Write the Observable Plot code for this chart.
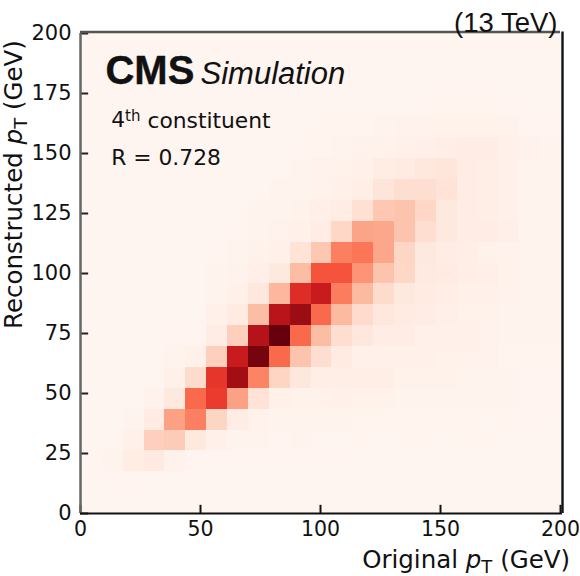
<!DOCTYPE html>
<html>
<head>
<meta charset="utf-8">
<script src="https://cdn.jsdelivr.net/npm/d3@7"></script>
<script src="https://cdn.jsdelivr.net/npm/@observablehq/plot@0.6"></script>
<style>html,body{margin:0;padding:0;background:#fff}svg{display:block}</style>
</head>
<body>
<div id="chart"></div>
<script>
const binCount = 23;
const xTicks = [0, 50, 100, 150, 200];
const yTicks = [0, 25, 50, 75, 100, 125, 150, 175, 200];
const row00 = [0,0,0,0,0,0,0,0,0,0,0,0,0,0,0,0,0,0,0,0,0,0,0];
const row01 = [0,.3,.3,0,0,0,0,0,0,0,0,0,0,0,0,0,0,0,0,0,0,0,0];
const row02 = [0,1,5.5,6.5,1.5,.3,.3,.3,.3,.3,.3,.3,.3,0,0,0,0,0,0,0,0,0,0];
const row03 = [0,0,2.5,18,19,7,2.5,1,1,.5,1,0,0,.7,0,.7,.7,0,.7,.7,0,0,0];
const row04 = [0,0,1,6,33,43,16,5,1.5,1,1,1,1,.7,.7,.7,.7,.7,.7,0,.7,.5,0];
const row05 = [0,0,0,1.5,7,50,63,33,10,3,2,2,3,2,2,1,1,1,1,1,1,.5,.5];
const row06 = [0,0,0,0,3,13,65,87,42,16,8,4,4,4,4,2,2,2,1,1,1,.5,.5];
const row07 = [0,0,0,0,1,3,18,76,97,50,22,12,6,3,3,3,3,2,1.5,1.5,.8,.8,.8];
const row08 = [0,0,0,0,.5,.5,5,18,82,100,50,24,12,8,4.5,4.5,3,3,2.5,1.5,1,1,1];
const row09 = [0,0,0,0,0,0,3,6,24,81,89,50,25,13,8,6,5,3.5,2,2,1,1,1];
const row10 = [0,0,0,0,0,0,1,3,8,26,68,76,44,25,13,7,6,4,3,2.5,1.5,1,1];
const row11 = [0,0,0,0,0,0,1,1.5,3.5,7,24,56,56,37,22,15,6.5,6,4,3.5,2,1,1];
const row12 = [0,0,0,0,0,0,.5,1,2,3,10,21,43,46,31,15.5,7,4.5,4,2,1.5,1,1];
const row13 = [0,0,0,0,0,0,0,.5,1,1.5,3,5,15,32,31,22,12,7,5,4.5,3.5,1,1];
const row14 = [0,0,0,0,0,0,0,0,1,1,2,3.5,5,11,21,22,15,7,4.5,4,3,1,1];
const row15 = [0,0,0,0,0,0,0,0,0,1,1,1.5,2.5,4,9,12,12,10,5,4,2.5,1,1];
const row16 = [0,0,0,0,0,0,0,0,0,0,1,1.5,2,2.5,5.5,6,8,8.5,4.5,4,2.5,1,1];
const row17 = [0,0,0,0,0,0,0,0,0,0,.5,.7,1,1.5,2,3,3.5,4,4.5,4.5,3,1.5,1];
const row18 = [0,0,0,0,0,0,0,0,0,0,0,.7,.7,.7,1,1.5,1.5,2,2,2,1.5,.5,.3];
const row19 = [0,0,0,0,0,0,0,0,0,0,0,0,0,0,0,0,.5,.7,.7,.7,.5,0,0];
const row20 = [0,0,0,0,0,0,0,0,0,0,0,0,0,0,0,0,0,.3,.3,.3,0,0,0];
const row21 = [0,0,0,0,0,0,0,0,0,0,0,0,0,0,0,0,0,0,0,0,0,0,0];
const row22 = [0,0,0,0,0,0,0,0,0,0,0,0,0,0,0,0,0,0,0,0,0,0,0];
const rows = [row00,row01,row02,row03,row04,row05,row06,row07,row08,row09,row10,row11,
              row12,row13,row14,row15,row16,row17,row18,row19,row20,row21,row22];
const binWidth = 200 / binCount;
const cells = rows.flatMap((r, j) => r.map((v, i) => ({
  x1: i * binWidth, x2: (i + 1) * binWidth, y1: j * binWidth, y2: (j + 1) * binWidth, v
})));

const sans = "DejaVu Sans";
const helv = "Liberation Sans";
const label = (t, x, y, o) => Plot.text([t], {x: () => x, y: () => y, text: d => d, textAnchor: "start", fontFamily: sans, fontSize: 21.8, fill: "#111", lineAnchor: "middle", ...o});

const svg = Plot.plot({
  width: 580, height: 576,
  marginLeft: 80, marginRight: 20, marginTop: 33, marginBottom: 63,
  style: {background: "#fff", overflow: "visible"},
  x: {domain: [0, 200]},
  y: {domain: [0, 200]},
  color: {type: "linear", scheme: "reds", domain: [0, 100]},
  marks: [
    Plot.rect(cells, {x1: "x1", x2: "x2", y1: "y1", y2: "y2", fill: "v", dx: 1, shapeRendering: "crispEdges"}),
    Plot.ruleX(xTicks, {x: d => d, y1: 0, y2: 3.4, stroke: "#111", strokeWidth: 2}),
    Plot.ruleY(yTicks, {y: d => d, x1: 0, x2: 3.4, stroke: "#222", strokeWidth: 2}),
    Plot.ruleX([0], {stroke: "#666", strokeWidth: 2.5}),
    Plot.ruleY([200], {stroke: "#555", strokeWidth: 2.5, dy: -1.5}),
    Plot.ruleX([200], {stroke: "#111", strokeWidth: 2.4, dx: 2, y1: 0, y2: 200.6}),
    Plot.ruleY([0], {stroke: "#111", strokeWidth: 2.2, x1: 0, x2: 200.8}),
    Plot.axisX({ticks: xTicks, tickSize: 0, tickPadding: 8, label: null, fontFamily: sans, fontSize: 20.5, fill: "#111"}),
    Plot.axisY({ticks: yTicks, tickSize: 0, tickPadding: 9, label: null, fontFamily: sans, fontSize: 21, fill: "#111"}),
    label("CMS", 10.4, 184.5, {fontFamily: helv, fontWeight: "bold", fontSize: 40, fill: "#111", stroke: "#111", strokeWidth: 0.4}),
    label("Simulation", 50, 183, {fontFamily: helv, fontStyle: "italic", fontSize: 31}),
    label("4th constituent", 12.8, 163.8),
    label("R = 0.728", 12.8, 148),
    label("(13 TeV)", 557 / 2.4 - 80 / 2.4, 204.5, {fontFamily: helv, fontSize: 27.5, textAnchor: "end"}),
    label("Original pT (GeV)", 204, -19.5, {fontSize: 24.5, textAnchor: "end"}),
    Plot.text(["Reconstructed pT (GeV)"], {frameAnchor: "top-left", dx: -66, dy: 151, text: d => d, rotate: -90, textAnchor: "middle", lineAnchor: "middle", fontFamily: sans, fontSize: 24.5, fill: "#111"})
  ]
});

// Typeset superscripts and subscripts as real tspans.
function rich(match, parts) {
  d3.select(svg).selectAll("text").each(function () {
    const host = this.querySelector("tspan") || this;
    if (this.textContent !== match) return;
    const s = d3.select(host); s.text(null);
    parts.forEach(p => {
      const t = s.append("tspan").text(p.t);
      if (p.style) t.attr("font-style", p.style);
      if (p.size) t.attr("font-size", p.size);
      if (p.dy) t.attr("dy", p.dy);
    });
  });
}
const pT = (pre, post) => [{t: pre}, {t: "p", style: "italic"}, {t: "T", size: 18, dy: "0.25em"}, {t: post, dy: "-0.18em"}];
rich("Original pT (GeV)", pT("Original ", " (GeV)"));
rich("Reconstructed pT (GeV)", pT("Reconstructed ", " (GeV)"));
rich("4th constituent", [{t: "4"}, {t: "th", size: 15, dy: "-0.42em"}, {t: " constituent", dy: "0.3em"}]);

document.getElementById("chart").append(svg);
</script>
</body>
</html>
